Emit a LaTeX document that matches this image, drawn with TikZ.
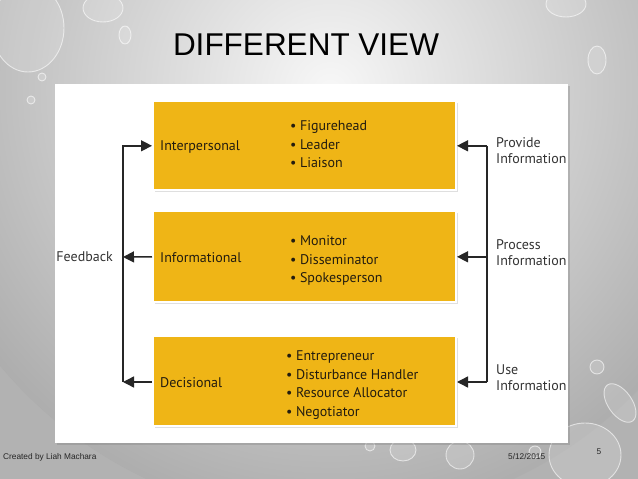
\documentclass[tikz,border=0pt]{standalone}
\usepackage{fontspec}
\setmainfont{PT Sans}
\newfontfamily\arialf{Liberation Sans}
\usetikzlibrary{shadows,arrows.meta}
\definecolor{boxyellow}{RGB}{239,181,22}
\definecolor{inktext}{RGB}{35,28,15}
\newcommand{\bul}{•\hspace{3.5pt}}
\begin{document}
\begin{tikzpicture}[x=1pt,y=-1pt,
  box/.style={draw=white, line width=2pt, fill=boxyellow, minimum width=303pt, inner sep=0pt,
    drop shadow={opacity=0.25, shadow xshift=1.5pt, shadow yshift=-2pt}},
  role/.style={anchor=west, inner sep=0pt, font=\fontsize{14}{16}\selectfont, text=inktext},
  blist/.style={anchor=west, inner sep=0pt, align=left, font=\fontsize{14}{18.6}\selectfont, text=inktext},
  side/.style={anchor=west, inner sep=0pt, align=left, font=\fontsize{14}{16}\selectfont, text=black!80},
  arr/.style={line width=1.4pt, draw=black!85, -{Triangle[length=11pt,width=11pt]}},
  conn/.style={line width=1.4pt, draw=black!85},
  bubble/.style={draw=white, line width=0.9pt, fill=white, fill opacity=0.15, draw opacity=0.6},
  foot/.style={inner sep=0pt, font=\arialf\fontsize{8.3}{10}\selectfont, text=black!85}]
\useasboundingbox (0,0) rectangle (638,479);
% background
\begin{scope}
  \clip (0,0) rectangle (638,479);
  \fill[gray!60] (0,0) rectangle (638,479);
  \shade[inner color=gray!6, outer color=gray!64] (330,90) circle (430pt);
  % bubbles
  \draw[bubble] (28,28) ellipse [x radius=36pt, y radius=44pt];
  \draw[bubble] (103,8) ellipse [x radius=20pt, y radius=14pt];
  \draw[bubble] (125,35) ellipse [x radius=6pt, y radius=9pt];
  \draw[bubble] (42,77) circle (4pt);
  \draw[bubble] (31,100) circle (4pt);
  \draw[bubble] (566,4) ellipse [x radius=20pt, y radius=13pt];
  \draw[bubble] (597,60) ellipse [x radius=9pt, y radius=14pt];
  \draw[bubble] (597,367) circle (7pt);
  \draw[bubble, rotate around={35:(620,403)}] (620,403) ellipse [x radius=12pt, y radius=22pt];
  \draw[bubble] (585,455) ellipse [x radius=36pt, y radius=32pt];
  \draw[bubble] (460,455) circle (14pt);
  \draw[bubble] (403,450) ellipse [x radius=13pt, y radius=11pt];
  \draw[bubble] (370,446) circle (5pt);
  \draw[bubble] (535,452) circle (6pt);
\end{scope}
% title
\node[inner sep=0pt, font=\arialf\fontsize{31.5}{34}\selectfont, text=black] (title) at (306,45) {DIFFERENT VIEW};
% white panel
\node[fill=white, minimum width=513pt, minimum height=359pt, inner sep=0pt,
  drop shadow={opacity=0.35, shadow xshift=2pt, shadow yshift=-2pt}] (panel) at (311.5,263.5) {};
% boxes
\node[box, minimum height=89pt] (b1) at (304.5,145.8) {};
\node[box, minimum height=91pt] (b2) at (304.5,256.8) {};
\node[box, minimum height=90pt] (b3) at (304.5,381) {};
% role labels
\node[role] (l1) at (160,147) {Interpersonal};
\node[role] (l2) at (160,258) {Informational};
\node[role] (l3) at (160,383) {Decisional};
% bullet lists
\node[blist] (t1) at (290,144.5) {\bul Figurehead\\\bul Leader\\\bul Liaison};
\node[blist] (t2) at (290,260.5) {\bul Monitor\\\bul Disseminator\\\bul Spokesperson};
\node[blist] (t3) at (286,385) {\bul Entrepreneur\\\bul Disturbance Handler\\\bul Resource Allocator\\\bul Negotiator};
% left side
\node[anchor=east, inner sep=0pt, font=\fontsize{14}{16}\selectfont, text=black!80] (fb) at (113,257) {Feedback};
\coordinate (c2) at (123,257);
\coordinate (c3) at (123,382);
\draw[arr] (b3.west |- c3) -- (c3);
\draw[arr] (c3) |- (b1.west);
\draw[arr] (b2.west) -- (c2);
% right side
\coordinate (r1) at (487,145.8);
\coordinate (r2) at (487,256.8);
\coordinate (r3) at (487,382);
\draw[conn] (r1) -- (r3);
\draw[arr] (r1) -- (b1.east);
\draw[arr] (r2) -- (b2.east);
\draw[arr] (r3) -- (b3.east |- r3);
\node[side] (s1) at (496,151) {Provide\\Information};
\node[side] (s2) at (496,253) {Process\\Information};
\node[side] (s3) at (496,378) {Use\\Information};
% footer
\node[foot, anchor=west] (f1) at (3,457) {Created by Liah Machara};
\node[foot, anchor=west] (f2) at (508,457) {5/12/2015};
\node[foot] (f3) at (599,452) {5};
\end{tikzpicture}
\end{document}
